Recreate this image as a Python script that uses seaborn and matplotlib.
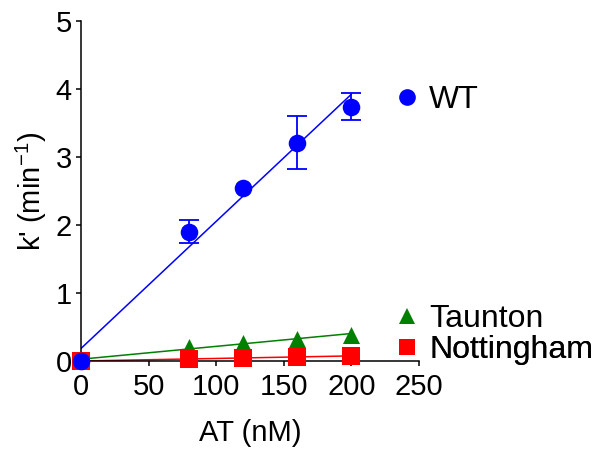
import numpy as np
import pandas as pd
import matplotlib
matplotlib.use("Agg")
import matplotlib.pyplot as plt
import seaborn as sns
from matplotlib.lines import Line2D

# ---- data ----
at_nM = [0, 80, 120, 160, 200]
wt_k = [0.0, 1.90, 2.54, 3.21, 3.74]
wt_err = [0.0, 0.17, 0.0, 0.39, 0.20]
taunton_k = [0.0, 0.21, 0.27, 0.33, 0.38]
nottingham_k = [0.0, 0.03, 0.045, 0.06, 0.075]
series_names = ["WT", "Taunton", "Nottingham"]
x_ticks = [0, 50, 100, 150, 200, 250]
y_ticks = [0, 1, 2, 3, 4, 5]

sns.set_style("ticks")
plt.rcParams["font.family"] = ["Liberation Sans", "DejaVu Sans"]
plt.rcParams["mathtext.fontset"] = "custom"
plt.rcParams["mathtext.rm"] = "Liberation Sans"
plt.rcParams["mathtext.it"] = "Liberation Sans:italic"
plt.rcParams["mathtext.default"] = "regular"
plt.rcParams["text.color"] = "black"
plt.rcParams["axes.labelcolor"] = "black"
plt.rcParams["xtick.color"] = "black"
plt.rcParams["ytick.color"] = "black"

df = pd.DataFrame({"AT": at_nM * 3,
                   "k": wt_k + taunton_k + nottingham_k,
                   "series": [s for s in series_names for _ in at_nM]})

colors = {"WT": "#0000FF", "Taunton": "#008000", "Nottingham": "#FF0000"}
markers = {"WT": "o", "Taunton": "^", "Nottingham": "s"}
sizes = {"WT": 160, "Taunton": 150, "Nottingham": 170}

fig = plt.figure(figsize=(6.08, 4.58), dpi=100)
ax = fig.add_axes([81 / 608, 1 - 361 / 458, (419 - 81) / 608, (361 - 21) / 458])

# fit lines
for name in ["Taunton", "Nottingham", "WT"]:
    sub = df[df.series == name]
    sns.regplot(data=sub, x="AT", y="k", ax=ax, scatter=False, ci=None,
                truncate=True, color=colors[name], line_kws={"lw": 1.1})

# error bars for WT (only where an error exists)
xa, ya, ea = np.array(at_nM), np.array(wt_k), np.array(wt_err)
m = ea > 0
ax.errorbar(xa[m], ya[m], yerr=ea[m], fmt="none", ecolor=colors["WT"],
            elinewidth=1.3, capsize=7, capthick=1.3, clip_on=False)

# points
for name in ["Taunton", "Nottingham", "WT"]:
    sub = df[df.series == name]
    sns.scatterplot(data=sub, x="AT", y="k", ax=ax, color=colors[name],
                    marker=markers[name], s=sizes[name], linewidth=0,
                    clip_on=False, zorder=5, legend=False)

ax.set_xlim(0, 250)
ax.set_ylim(0, 5)
ax.set_xticks(x_ticks)
ax.set_yticks(y_ticks)
ax.tick_params(labelsize=21, length=3.5, width=1.1,
               colors="black", labelcolor="black")
ax.tick_params(axis="x", pad=5)
ax.tick_params(axis="y", pad=3)
for sp in ["left", "bottom"]:
    ax.spines[sp].set_linewidth(1.1)
    ax.spines[sp].set_color("black")
sns.despine(ax=ax)
ax.set_xlabel("AT (nM)", fontsize=21, labelpad=13, color="black")
ax.set_ylabel("k' (min$^{-1}$)", fontsize=21, labelpad=5, color="black")

# legends placed beside the series
leg_y = {"WT": 1 - 100 / 458, "Taunton": 1 - 319 / 458, "Nottingham": 1 - 350 / 458}
msz = {"WT": 12, "Taunton": 11, "Nottingham": 12}
for name in series_names:
    h = Line2D([], [], ls="none", marker=markers[name], color=colors[name],
               markersize=msz[name], markeredgewidth=0)
    leg = ax.legend([h], [name], loc="center left",
                    bbox_to_anchor=(394 / 608, leg_y[name]),
                    bbox_transform=fig.transFigure, frameon=False,
                    fontsize=23, handlelength=0.8, handletextpad=0.3,
                    borderpad=0, borderaxespad=0, labelcolor="black")
    ax.add_artist(leg)

fig.savefig("out.png", dpi=100)
